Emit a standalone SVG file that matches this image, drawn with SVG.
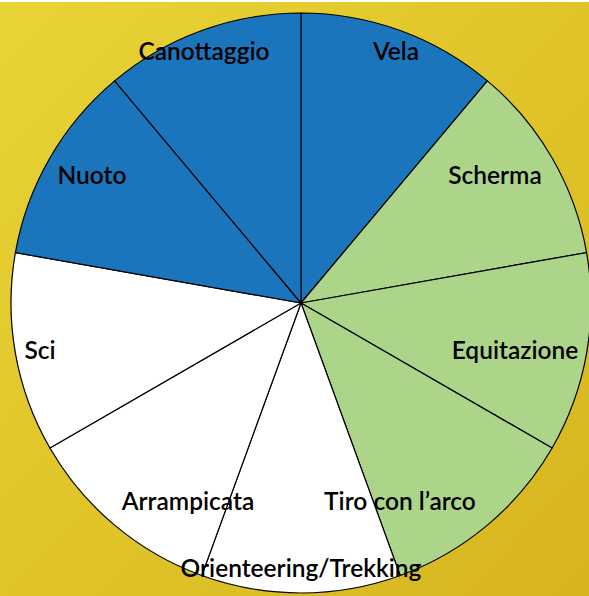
<svg xmlns="http://www.w3.org/2000/svg" width="589" height="596" viewBox="0 0 589 596">
<defs>
<linearGradient id="bg" x1="0" y1="0" x2="1" y2="1">
<stop offset="0" stop-color="#e9d436"/>
<stop offset="1" stop-color="#d7b51e"/>
</linearGradient>
<style>
.s{stroke:#000;stroke-width:1.2;stroke-linejoin:round}
.blue{fill:#1b75bc}
.green{fill:#add58a}
.white{fill:#ffffff}
text{font-family:Lato,"Open Sans","Liberation Sans",sans-serif;font-size:24.5px;font-weight:600;fill:#000;text-anchor:middle}
</style>
</defs>
<rect x="0" y="0" width="589" height="596" fill="url(#bg)"/>
<rect x="0" y="0" width="589" height="2" fill="#ffffff"/>
<g id="vela"><path class="s blue" d="M301 303 L301 13 A290 290 0 0 1 487.4 80.9 Z"/><text x="396" y="60">Vela</text></g>
<g id="scherma"><path class="s green" d="M301 303 L487.4 80.9 A290 290 0 0 1 586.6 252.6 Z"/><text x="495" y="184">Scherma</text></g>
<g id="equitazione"><path class="s green" d="M301 303 L586.6 252.6 A290 290 0 0 1 552.1 448 Z"/><text x="515" y="359">Equitazione</text></g>
<g id="tiro"><path class="s green" d="M301 303 L552.1 448 A290 290 0 0 1 400.2 575.5 Z"/></g>
<g id="orienteering"><path class="s white" d="M301 303 L400.2 575.5 A290 290 0 0 1 201.8 575.5 Z"/></g>
<g id="arrampicata"><path class="s white" d="M301 303 L201.8 575.5 A290 290 0 0 1 49.9 448 Z"/><text x="188" y="510">Arrampicata</text></g>
<g id="sci"><path class="s white" d="M301 303 L49.9 448 A290 290 0 0 1 15.4 252.6 Z"/><text x="40" y="359">Sci</text></g>
<g id="nuoto"><path class="s blue" d="M301 303 L15.4 252.6 A290 290 0 0 1 114.6 80.9 Z"/><text x="92" y="184">Nuoto</text></g>
<g id="canottaggio"><path class="s blue" d="M301 303 L114.6 80.9 A290 290 0 0 1 301 13 Z"/><text x="204" y="60">Canottaggio</text></g>
<g id="labels-overlap">
<text x="400" y="510">Tiro con l’arco</text>
<text x="301" y="577">Orienteering/Trekking</text>
</g>
<g id="connectors"/>
</svg>
